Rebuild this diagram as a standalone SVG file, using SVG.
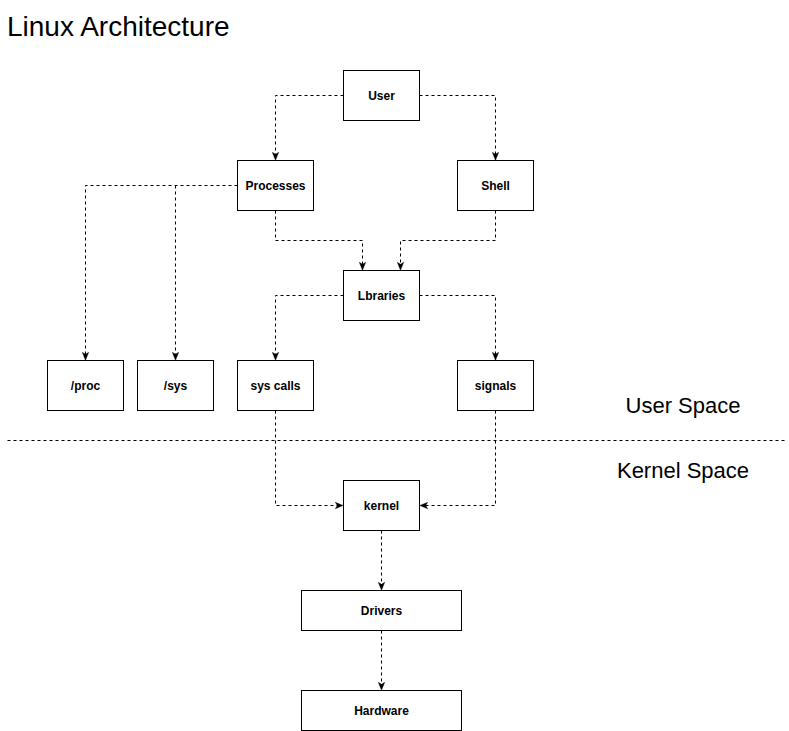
<svg xmlns="http://www.w3.org/2000/svg" width="789" height="731" viewBox="0 0 789 731">
<style>
.box{fill:#fff;stroke:#000;stroke-width:1}
.lbl{font-family:"Liberation Sans",Arial,sans-serif;font-size:12px;font-weight:bold;text-anchor:middle;dominant-baseline:central;fill:#000}
.big{font-family:"Liberation Sans",Arial,sans-serif;font-size:22px;fill:#000}
.edge{fill:none;stroke:#000;stroke-width:1;stroke-dasharray:3 3}
</style>
<defs>
<marker id="arr" viewBox="0 0 10 10" refX="9" refY="5" markerWidth="8" markerHeight="8" markerUnits="userSpaceOnUse" orient="auto">
<path d="M0,1 L10,5 L0,9 L2.5,5 Z" fill="#000" stroke="#000" stroke-width="0.5"/>
</marker>
</defs>
<rect width="789" height="731" fill="#fff"/>
<text class="big" x="7" y="36" font-size="28" style="font-size:28px">Linux Architecture</text>
<g id="connectors">
<path class="edge" d="M343.5,95.5 H275.5 V159.5" marker-end="url(#arr)"/>
<path class="edge" d="M419.5,95.5 H495.5 V159.5" marker-end="url(#arr)"/>
<path class="edge" d="M237.5,185.5 H85.5 V359.5" marker-end="url(#arr)"/>
<path class="edge" d="M175.5,185.5 V359.5" marker-end="url(#arr)"/>
<path class="edge" d="M275.5,210.5 V240.5 H362.5 V269.5" marker-end="url(#arr)"/>
<path class="edge" d="M495.5,210.5 V240.5 H400.5 V269.5" marker-end="url(#arr)"/>
<path class="edge" d="M343.5,295.5 H275.5 V359.5" marker-end="url(#arr)"/>
<path class="edge" d="M419.5,295.5 H495.5 V359.5" marker-end="url(#arr)"/>
<path class="edge" d="M275.5,410.5 V505.5 H342.5" marker-end="url(#arr)"/>
<path class="edge" d="M495.5,410.5 V505.5 H420.5" marker-end="url(#arr)"/>
<path class="edge" d="M381.5,530.5 V589.5" marker-end="url(#arr)"/>
<path class="edge" d="M381.5,630.5 V689.5" marker-end="url(#arr)"/>
<path class="edge" d="M7.5,440.5 H785.5"/>
</g>
<g id="node-user"><rect class="box" x="343.5" y="70.5" width="76" height="50"/><text class="lbl" x="381.5" y="95.5">User</text></g>
<g id="node-processes"><rect class="box" x="237.5" y="160.5" width="76" height="50"/><text class="lbl" x="275.5" y="185.5">Processes</text></g>
<g id="node-shell"><rect class="box" x="457.5" y="160.5" width="76" height="50"/><text class="lbl" x="495.5" y="185.5">Shell</text></g>
<g id="node-libraries"><rect class="box" x="343.5" y="270.5" width="76" height="50"/><text class="lbl" x="381.5" y="295.5">Lbraries</text></g>
<g id="node-proc"><rect class="box" x="47.5" y="360.5" width="76" height="50"/><text class="lbl" x="85.5" y="385.5">/proc</text></g>
<g id="node-sys"><rect class="box" x="137.5" y="360.5" width="76" height="50"/><text class="lbl" x="175.5" y="385.5">/sys</text></g>
<g id="node-syscalls"><rect class="box" x="237.5" y="360.5" width="76" height="50"/><text class="lbl" x="275.5" y="385.5">sys calls</text></g>
<g id="node-signals"><rect class="box" x="457.5" y="360.5" width="76" height="50"/><text class="lbl" x="495.5" y="385.5">signals</text></g>
<g id="node-kernel"><rect class="box" x="343.5" y="480.5" width="76" height="50"/><text class="lbl" x="381.5" y="505.5">kernel</text></g>
<g id="node-drivers"><rect class="box" x="301.5" y="590.5" width="160" height="40"/><text class="lbl" x="381.5" y="610.5">Drivers</text></g>
<g id="node-hardware"><rect class="box" x="301.5" y="690.5" width="160" height="40"/><text class="lbl" x="381.5" y="710.5">Hardware</text></g>
<g id="label-userspace"><text class="big" x="683" y="413" text-anchor="middle">User Space</text></g>
<g id="label-kernelspace"><text class="big" x="683" y="478" text-anchor="middle">Kernel Space</text></g>
</svg>
